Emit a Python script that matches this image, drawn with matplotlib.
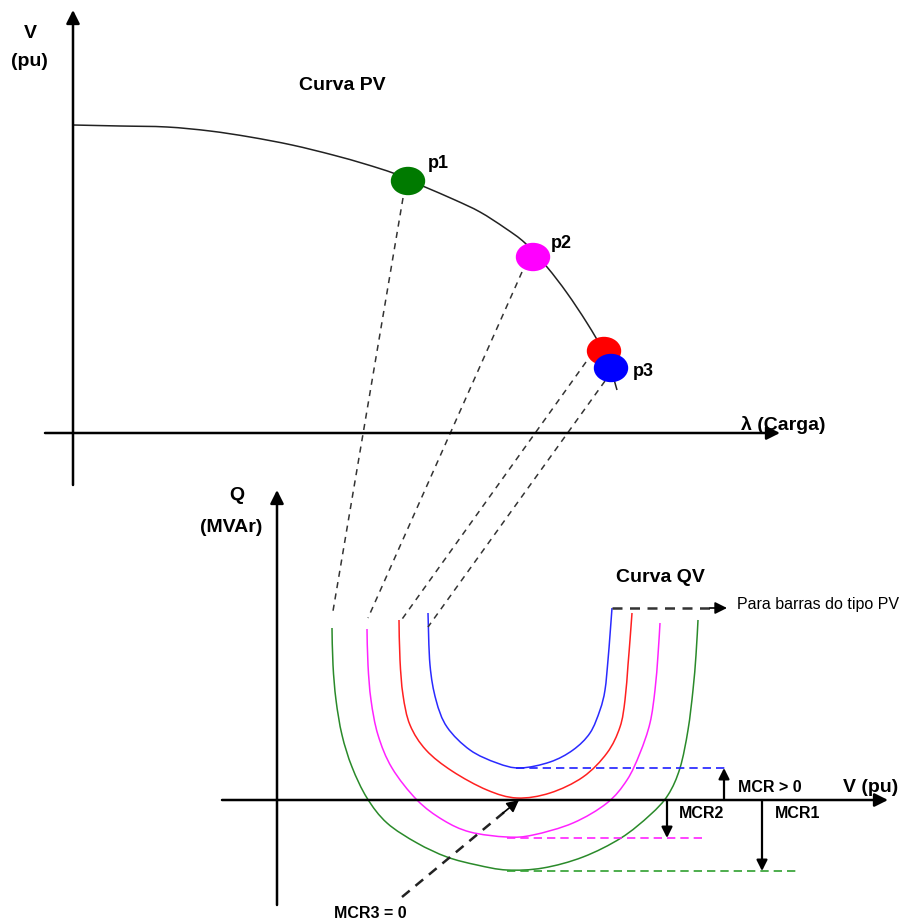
"""
Curvas PV e QV: margem de carga e margem de reativo (MCR) em barras.
Desenho esquemático em coordenadas de pixel (origem no canto superior esquerdo).
"""

import matplotlib

matplotlib.use("Agg")
import matplotlib.pyplot as plt
from matplotlib.patches import Ellipse, PathPatch
from matplotlib.path import Path

# ==================== dados do esquema ====================
# curva PV (lambda x V)
PV_X = [73, 120, 167, 210, 250, 292, 333, 365, 393, 408, 425, 455, 480,
        505, 525, 547, 567, 587, 604, 611, 617]
PV_Y = [125, 126, 127, 131, 137, 145, 155, 164, 173, 180, 187, 200, 212,
        228, 243, 267, 293, 323, 352, 370, 390]

# pontos de operação sobre a curva PV
POINT_NAMES = ["p1", "p2", "", "p3"]
POINT_X = [408, 533, 604, 611]
POINT_Y = [181, 257, 351, 368]
POINT_COLORS = ["#007a00", "#ff00ff", "#ff0000", "#0000ff"]
LABEL_X = [438, 561, None, 643]
LABEL_Y = [164, 243, None, 372]

# ligações tracejadas ponto -> topo da curva QV correspondente
LINK_X0 = [403, 522, 586, 605]
LINK_Y0 = [198, 272, 362, 381]
LINK_X1 = [333, 368, 400, 428]
LINK_Y1 = [611, 618, 622, 627]

# curvas QV (V x Q), uma por ponto de operação
QV_GREEN_X = [332, 333, 336, 342, 352, 367, 387, 417, 447, 477, 507, 543,
              583, 621, 650, 668, 680, 688, 693, 696, 698]
QV_GREEN_Y = [628, 665, 700, 735, 767, 798, 823, 843, 857, 865, 870, 868,
              857, 838, 815, 795, 768, 730, 690, 655, 620]
QV_MAGENTA_X = [367, 368, 371, 378, 392, 417, 443, 470, 507, 533, 573, 607,
                627, 640, 650, 655, 658, 660]
QV_MAGENTA_Y = [629, 665, 700, 735, 768, 800, 820, 832, 837, 835, 823, 803,
                780, 753, 723, 690, 655, 623]
QV_RED_X = [399, 400, 403, 410, 426, 452, 487, 517, 550, 583, 607, 620,
            625, 628, 630, 632]
QV_RED_Y = [620, 660, 695, 725, 750, 771, 790, 798, 793, 777, 753, 727,
            700, 665, 640, 613]
QV_BLUE_X = [428, 430, 436, 447, 470, 497, 520, 550, 573, 590, 600, 605,
             608, 610, 612]
QV_BLUE_Y = [613, 665, 700, 727, 750, 763, 768, 762, 750, 733, 710, 690,
             660, 635, 608]

# níveis de mínimo de cada curva QV (linhas tracejadas)
MIN_Y = [768, 838, 871]
MIN_X0 = [516, 507, 507]
MIN_X1 = [728, 703, 797]
MIN_COLORS = ["#1f1fff", "#ff22ff", "#2fa02f"]

# setas das margens de reativo
MCR_NAMES = ["MCR > 0", "MCR2", "MCR1"]
MCR_X = [724, 667, 762]
MCR_Y = [768, 838, 871]
MCR_LABEL_X = [738, 679, 775]
MCR_LABEL_Y = [788, 813, 813]

# eixos
PV_ORIGIN = (73, 433)
QV_ORIGIN = (277, 800)


def configure_matplotlib() -> None:
    plt.rcParams["font.family"] = ["Liberation Sans", "DejaVu Sans"]


def smooth_path(xs, ys) -> Path:
    """Caminho Bézier cúbico passando pelos pontos dados (tangentes Catmull-Rom)."""
    pts = list(zip(xs, ys))
    verts = [pts[0]]
    codes = [Path.MOVETO]
    n = len(pts)
    for i in range(n - 1):
        p0 = pts[max(i - 1, 0)]
        p1 = pts[i]
        p2 = pts[i + 1]
        p3 = pts[min(i + 2, n - 1)]
        c1 = (p1[0] + (p2[0] - p0[0]) / 6, p1[1] + (p2[1] - p0[1]) / 6)
        c2 = (p2[0] - (p3[0] - p1[0]) / 6, p2[1] - (p3[1] - p1[1]) / 6)
        verts += [c1, c2, p2]
        codes += [Path.CURVE4] * 3
    return Path(verts, codes)


def draw_curve(ax, xs, ys, color, lw=1.1):
    ax.add_patch(PathPatch(smooth_path(xs, ys), fill=False,
                           edgecolor=color, lw=lw, capstyle="butt"))


def arrow(ax, x0, y0, x1, y1, lw=1.8, ls="-", color="black", scale=20):
    ax.annotate(
        "",
        xy=(x1, y1),
        xytext=(x0, y0),
        arrowprops=dict(
            arrowstyle="-|>",
            lw=lw,
            linestyle=ls,
            color=color,
            mutation_scale=scale,
            shrinkA=0,
            shrinkB=0,
        ),
    )


def main() -> None:
    configure_matplotlib()

    fig = plt.figure(figsize=(9.08, 9.23), dpi=100)
    ax = fig.add_axes([0, 0, 1, 1])
    ax.set_xlim(0, 908)
    ax.set_ylim(923, 0)
    ax.axis("off")

    # ---------------- curva PV ----------------
    arrow(ax, PV_ORIGIN[0], 485, PV_ORIGIN[0], 10)
    arrow(ax, 45, PV_ORIGIN[1], 780, PV_ORIGIN[1])
    ax.text(30, 34, "V", fontsize=14, fontweight="bold", ha="center", va="center")
    ax.text(29, 62, "(pu)", fontsize=14, fontweight="bold", ha="center", va="center")
    ax.text(342, 85, "Curva PV", fontsize=14, fontweight="bold", ha="center", va="center")
    ax.text(741, 425, "λ (Carga)", fontsize=14, fontweight="bold",
            ha="left", va="center")

    draw_curve(ax, PV_X, PV_Y, "#222222")

    for x0, y0, x1, y1 in zip(LINK_X0, LINK_Y0, LINK_X1, LINK_Y1):
        ax.plot([x0, x1], [y0, y1], color="#333333", lw=1.1, ls=(0, (4, 3.5)))

    for name, x, y, c, lx, ly in zip(POINT_NAMES, POINT_X, POINT_Y,
                                      POINT_COLORS, LABEL_X, LABEL_Y):
        ax.add_patch(Ellipse((x, y), 33, 27, color=c, zorder=5))
        if name:
            ax.text(lx, ly, name, fontsize=13, fontweight="bold",
                    ha="center", va="center")

    # ---------------- curva QV ----------------
    arrow(ax, QV_ORIGIN[0], 905, QV_ORIGIN[0], 490)
    arrow(ax, 222, QV_ORIGIN[1], 888, QV_ORIGIN[1])
    ax.text(237, 495, "Q", fontsize=14, fontweight="bold", ha="center", va="center")
    ax.text(231, 527, "(MVAr)", fontsize=14, fontweight="bold", ha="center", va="center")
    ax.text(871, 787, "V (pu)", fontsize=14, fontweight="bold", ha="center", va="center")
    ax.text(660, 578, "Curva QV", fontsize=14, fontweight="bold", ha="center", va="center")

    draw_curve(ax, QV_GREEN_X, QV_GREEN_Y, "#2a8a2a")
    draw_curve(ax, QV_MAGENTA_X, QV_MAGENTA_Y, "#ff22ff")
    draw_curve(ax, QV_RED_X, QV_RED_Y, "#ff2020")
    draw_curve(ax, QV_BLUE_X, QV_BLUE_Y, "#2a2aff")

    for y, x0, x1, c in zip(MIN_Y, MIN_X0, MIN_X1, MIN_COLORS):
        ax.plot([x0, x1], [y, y], color=c, lw=1.2, ls=(0, (5, 3)))

    # barras do tipo PV
    ax.plot([612, 714], [608, 608], color="#333333", lw=1.8, ls=(0, (4, 3)))
    arrow(ax, 710, 608, 727, 608, lw=1.2, scale=18)
    ax.text(737, 605, "Para barras do tipo PV", fontsize=11.5,
            ha="left", va="center")

    # margens
    for name, x, y, lx, ly in zip(MCR_NAMES, MCR_X, MCR_Y, MCR_LABEL_X, MCR_LABEL_Y):
        arrow(ax, x, QV_ORIGIN[1], x, y, lw=1.6, scale=16)
        ax.text(lx, ly, name, fontsize=11.5, fontweight="bold",
                ha="left", va="center")

    # MCR3 = 0
    ax.plot([402, 508], [897, 809], color="#222222", lw=1.8, ls=(0, (4, 3)))
    arrow(ax, 503, 813, 519, 800, lw=1.2, scale=18)
    ax.text(370, 914, "MCR3 = 0", fontsize=11.5, fontweight="bold",
            ha="center", va="center")

    fig.savefig("out.png", dpi=100)


if __name__ == "__main__":
    main()
